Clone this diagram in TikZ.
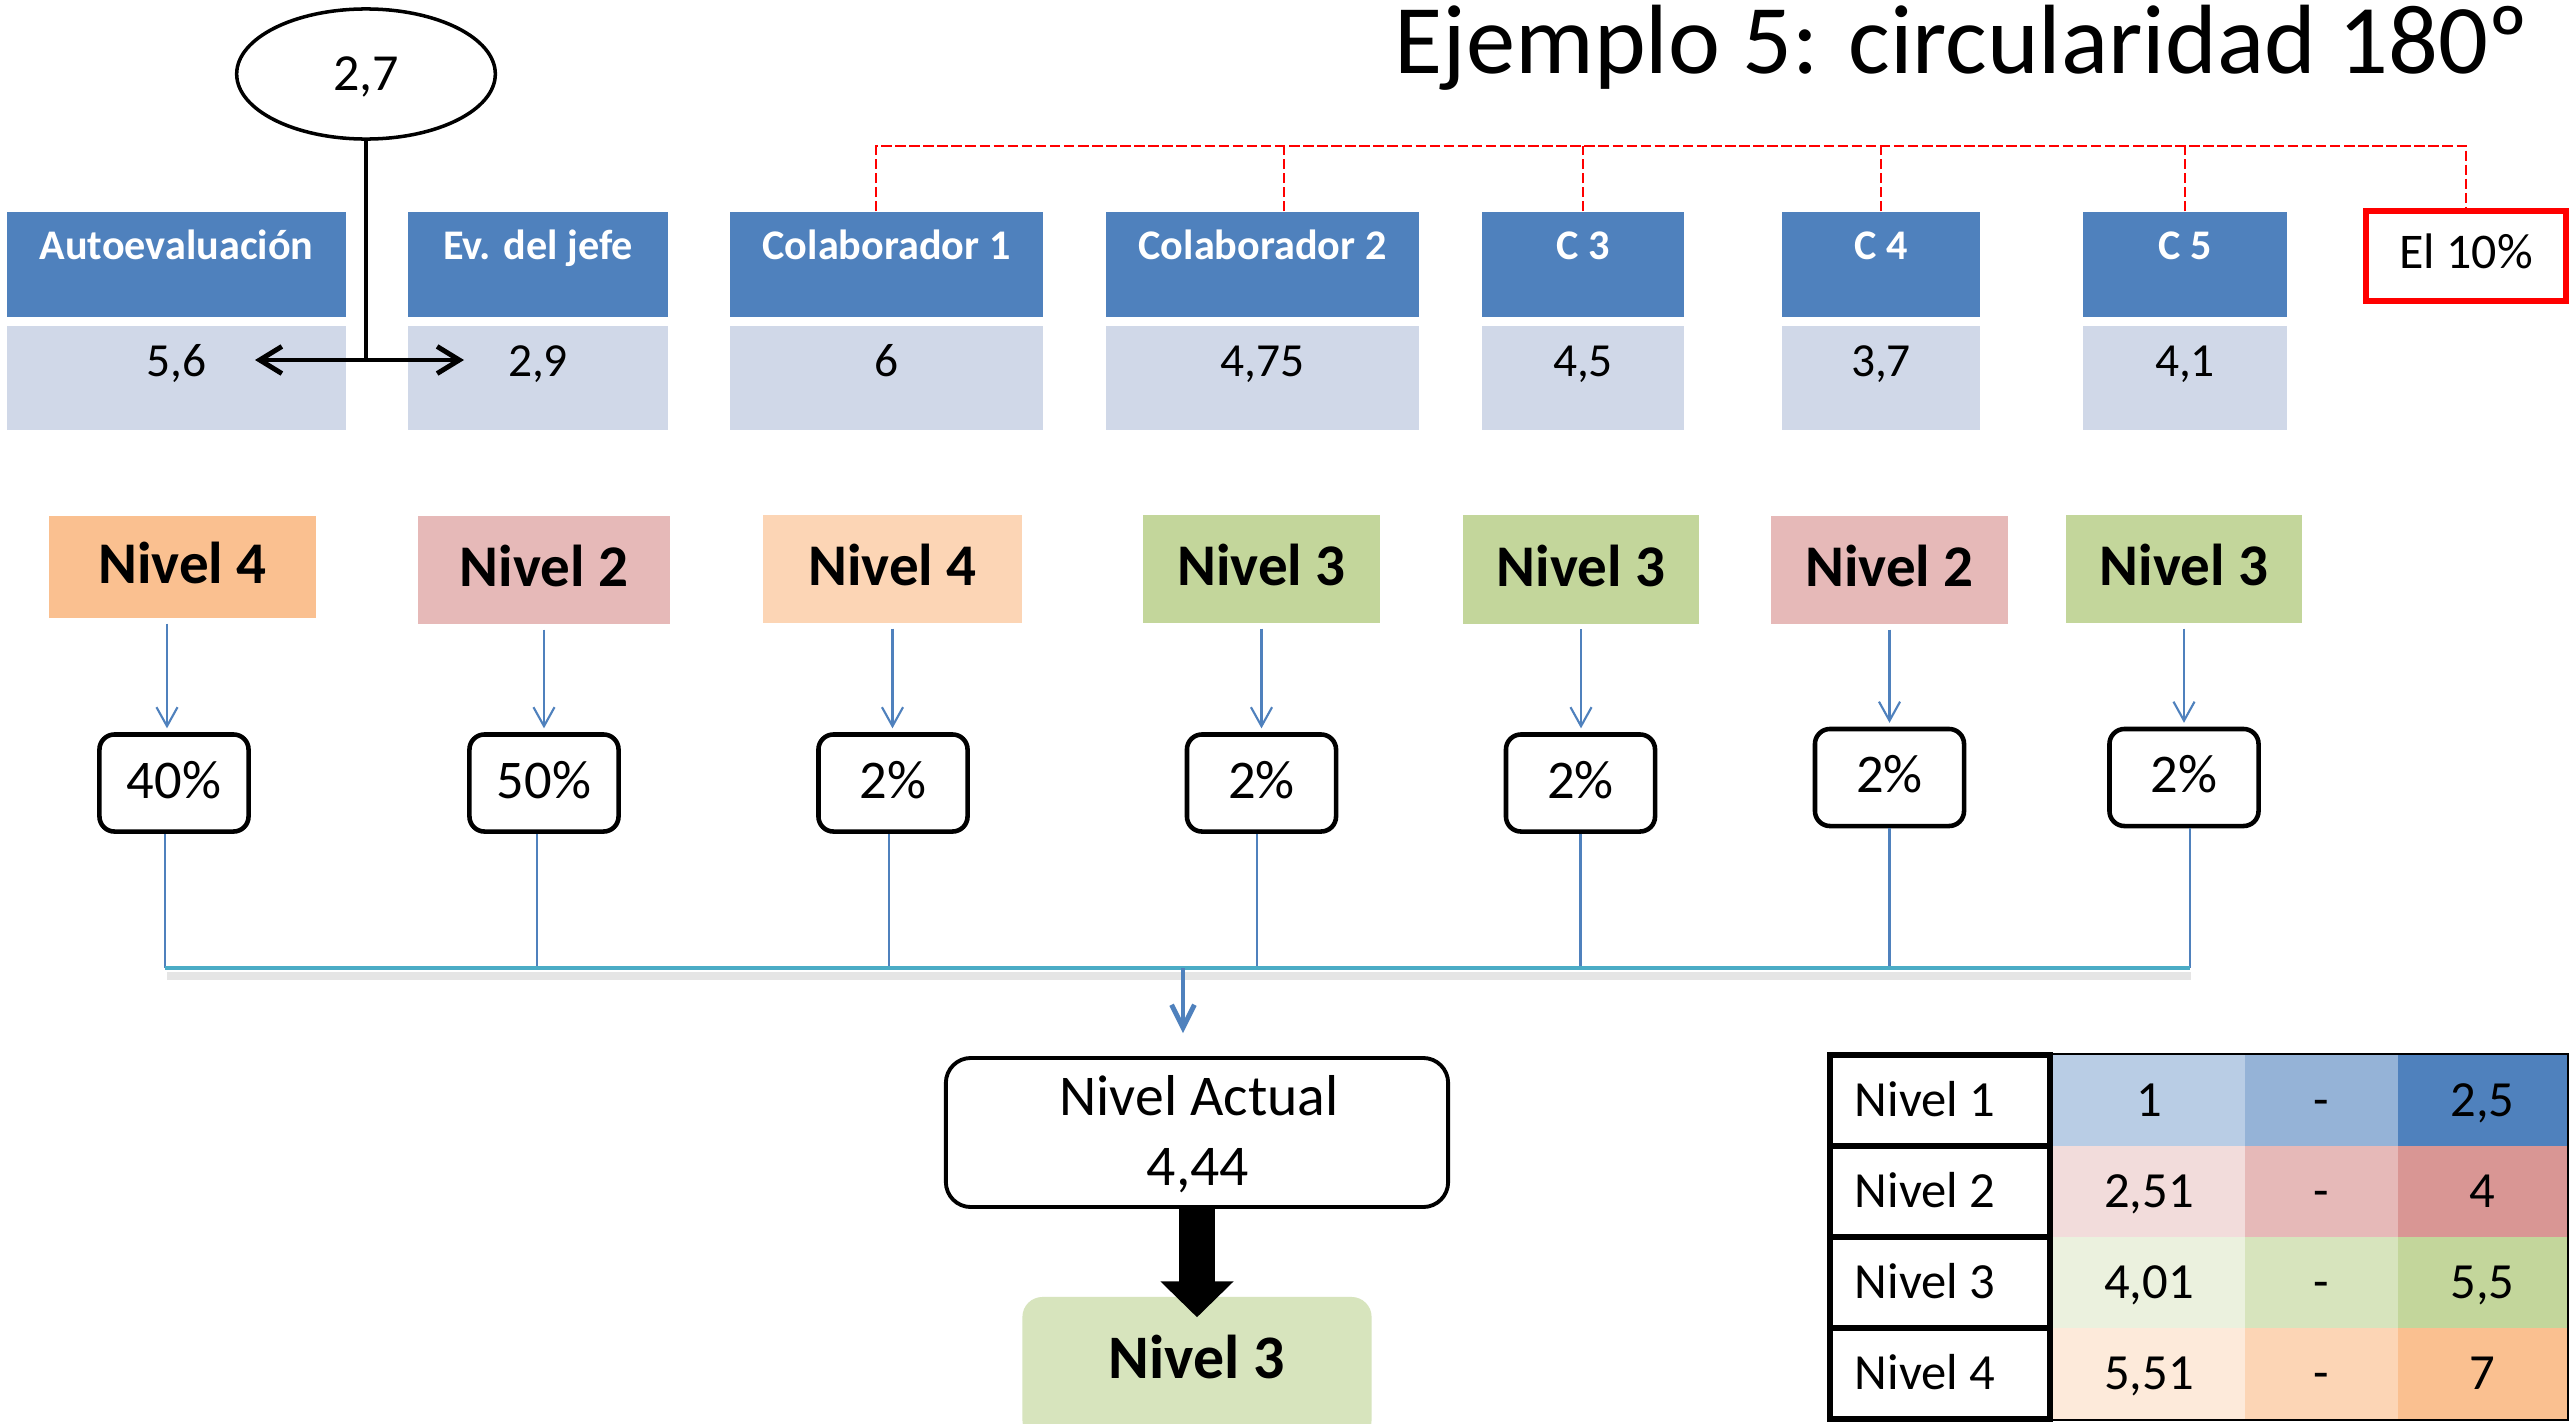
\documentclass[tikz,border=0pt]{standalone}
\usepackage{fontspec}
\setmainfont{Carlito}
\usetikzlibrary{arrows.meta,shapes.geometric}
\definecolor{hblue}{HTML}{4F81BD}
\definecolor{vfill}{HTML}{D0D8E8}
\definecolor{lorange}{HTML}{FAC090}
\definecolor{lpeach}{HTML}{FCD5B5}
\definecolor{lpink}{HTML}{E6B9B8}
\definecolor{lgreen}{HTML}{C3D69B}
\definecolor{resgreen}{HTML}{D7E4BD}
\definecolor{busc}{HTML}{4BACC6}
\definecolor{ta}{HTML}{B9CDE5}\definecolor{tb}{HTML}{95B3D7}\definecolor{tc}{HTML}{4F81BD}
\definecolor{pa}{HTML}{F2DCDB}\definecolor{pb}{HTML}{E6B9B8}\definecolor{pc}{HTML}{D99694}
\definecolor{ga}{HTML}{EBF1DE}\definecolor{gb}{HTML}{D7E4BD}\definecolor{gc}{HTML}{C3D69B}
\definecolor{oa}{HTML}{FDEADA}\definecolor{ob}{HTML}{FCD5B5}\definecolor{oc}{HTML}{FAC090}
\begin{document}
\begin{tikzpicture}[x=0.01cm, y=-0.01cm,
 hdr/.style={fill=hblue, inner sep=0pt, minimum height=1.05cm, text=white, font=\fontsize{12pt}{14pt}\selectfont\bfseries, text height=0.267cm, text depth=0.357cm},
 val/.style={fill=vfill, inner sep=0pt, minimum height=1.04cm, font=\fontsize{13.5pt}{16pt}\selectfont, text height=0.30cm, text depth=0.34cm},
 lev/.style={inner sep=0pt, minimum height=1.08cm, font=\fontsize{16.8pt}{20pt}\selectfont\bfseries, text height=0.373cm, text depth=0.04cm},
 pct/.style={draw=black, line width=1.3pt, rounded corners=0.15cm, fill=white, inner sep=0pt, minimum width=1.49cm, minimum height=0.97cm, font=\fontsize{15.5pt}{18pt}\selectfont, text height=0.344cm, text depth=0.044cm},
 thinarr/.style={draw=hblue, line width=0.6pt, -{Straight Barb[length=5.4pt,width=6pt]}, shorten <=1.4pt, shorten >=1.1pt},
 thinln/.style={draw=hblue, line width=0.6pt},
 rdash/.style={draw=red, line width=0.6pt, dash pattern=on 3pt off 1pt},
 tcell/.style={draw=black, line width=1.7pt, fill=white, inner sep=0pt, minimum width=2.2cm, minimum height=0.91cm, font=\fontsize{14.4pt}{17pt}\selectfont, text height=0.32cm, text depth=0cm},
 ccell/.style={inner sep=0pt, minimum height=0.91cm, font=\fontsize{14.4pt}{17pt}\selectfont, text height=0.32cm, text depth=0cm},
]
\clip (0,0) rectangle (2569,1424);
\fill[white] (0,0) rectangle (2569,1424);

% title
\node[anchor=base west, inner sep=0pt, font=\fontsize{28pt}{33pt}\selectfont] (title) at (1394,73) {Ejemplo 5: circularidad 180º};

% header boxes
\node[hdr, minimum width=3.39cm] (H1) at (176.5,264.5) {Autoevaluación};
\node[hdr, minimum width=2.60cm] (H2) at (538,264.5) {Ev. del jefe};
\node[hdr, minimum width=3.13cm] (H3) at (886.5,264.5) {Colaborador 1};
\node[hdr, minimum width=3.13cm] (H4) at (1262.5,264.5) {Colaborador 2};
\node[hdr, minimum width=2.02cm] (H5) at (1583,264.5) {C 3};
\node[hdr, minimum width=1.98cm] (H6) at (1881,264.5) {C 4};
\node[hdr, minimum width=2.04cm] (H7) at (2185,264.5) {C 5};

% value boxes
\node[val, minimum width=3.39cm] (V1) at (176.5,378) {5,6};
\node[val, minimum width=2.60cm] (V2) at (538,378) {2,9};
\node[val, minimum width=3.13cm] (V3) at (886.5,378) {6};
\node[val, minimum width=3.13cm] (V4) at (1262.5,378) {4,75};
\node[val, minimum width=2.02cm] (V5) at (1583,378) {4,5};
\node[val, minimum width=1.98cm] (V6) at (1881,378) {3,7};
\node[val, minimum width=2.04cm] (V7) at (2185,378) {4,1};

% El 10%
\node[draw=red, line width=1.7pt, fill=white, inner sep=0pt, minimum width=2.0cm, minimum height=0.90cm, font=\fontsize{14.2pt}{17pt}\selectfont, text height=0.315cm, text depth=0.075cm] (El) at (2466,256) {El 10\%};

% red dashed bracket
\coordinate (rt) at (0,146);
\draw[rdash] ([xshift=-0.105cm]H3.north) -- ([xshift=-0.105cm]H3.north |- rt) -- (El.north |- rt) -- (El.north);
\draw[rdash] ([xshift=0.215cm]H4.north) -- ([xshift=0.215cm]H4.north |- rt);
\foreach \n in {H5,H6,H7} \draw[rdash] (\n.north) -- (\n.north |- rt);

% ellipse and double arrow
\node[ellipse, draw=black, line width=1pt, fill=white, inner sep=0pt, minimum width=2.585cm, minimum height=1.30cm, font=\fontsize{14.8pt}{17pt}\selectfont, text height=0.33cm, text depth=0.01cm] (ell) at (366,74) {2,7};
\coordinate (fork) at (366,360);
\coordinate (aL) at (255,360);
\coordinate (aR) at (464,360);
\draw[line width=1.1pt] (ell.south) -- (fork);
\draw[line width=1.4pt, {Straight Barb[length=6.3pt,width=7.7pt]}-{Straight Barb[length=6.3pt,width=7.7pt]}] (aL) -- (aR);

% level boxes
\node[lev, fill=lorange, minimum width=2.67cm, minimum height=1.02cm] (L1) at (182.5,567) {Nivel 4};
\node[lev, fill=lpink, minimum width=2.52cm] (L2) at (544,570) {Nivel 2};
\node[lev, fill=lpeach, minimum width=2.59cm] (L3) at (892.5,569) {Nivel 4};
\node[lev, fill=lgreen, minimum width=2.37cm] (L4) at (1261.5,569) {Nivel 3};
\node[lev, fill=lgreen, minimum width=2.36cm] (L5) at (1581,569.5) {Nivel 3};
\node[lev, fill=lpink, minimum width=2.37cm] (L6) at (1889.5,570) {Nivel 2};
\node[lev, fill=lgreen, minimum width=2.36cm] (L7) at (2184,569) {Nivel 3};

% percentage boxes
\node[pct] (P1) at (174,783) {40\%};
\node[pct] (P2) at (544,783) {50\%};
\node[pct] (P3) at (893,783) {2\%};
\node[pct] (P4) at (1261.5,783) {2\%};
\node[pct] (P5) at (1580.5,783) {2\%};
\node[pct] (P6) at (1889.5,777.5) {2\%};
\node[pct] (P7) at (2184,777.5) {2\%};

% arrows level -> pct
\draw[thinarr] ([xshift=-0.155cm]L1.south) -- ([xshift=-0.155cm]L1.south |- P1.north);
\foreach \a/\b in {L2/P2,L3/P3,L4/P4,L5/P5,L6/P6,L7/P7}
  \draw[thinarr] (\a.south) -- (\a.south |- \b.north);

% bus
\coordinate (bus) at (0,968);
\draw[line width=2.4pt, black!10] (167,976) -- (2191,976);
\draw[thinln] ([xshift=-0.09cm]P1.south) -- ([xshift=-0.09cm]P1.south |- bus);
\draw[thinln] ([xshift=-0.07cm]P2.south) -- ([xshift=-0.07cm]P2.south |- bus);
\draw[thinln] ([xshift=-0.04cm]P3.south) -- ([xshift=-0.04cm]P3.south |- bus);
\draw[thinln] ([xshift=-0.045cm]P4.south) -- ([xshift=-0.045cm]P4.south |- bus);
\draw[thinln] (P5.south) -- (P5.south |- bus);
\draw[thinln] (P6.south) -- (P6.south |- bus);
\draw[thinln] ([xshift=0.06cm]P7.south) -- ([xshift=0.06cm]P7.south |- bus);
\draw[draw=busc, line width=0.9pt] ([xshift=-0.09cm]P1.south |- bus) -- ([xshift=0.06cm]P7.south |- bus);

% Nivel actual
\node[draw=black, line width=1.1pt, rounded corners=0.25cm, fill=white, inner sep=0pt, minimum width=5.02cm, minimum height=1.49cm] (NA) at (1197,1132.5) {};
\node[anchor=base, inner sep=0pt, font=\fontsize{16.4pt}{20pt}\selectfont] (NAa) at (1199,1115) {Nivel Actual};
\node[anchor=base, inner sep=0pt, font=\fontsize{16.4pt}{20pt}\selectfont] (NAb) at (1198,1185) {4,44};
\coordinate (busmid) at (1183,968);
\draw[hblue, line width=1.4pt, -{Straight Barb[length=6.5pt,width=6.5pt]}, shorten >=6.5pt] (busmid) -- (busmid |- NA.north);

% result
\node[fill=resgreen, rounded corners=0.2cm, inner sep=0pt, minimum width=3.49cm, minimum height=1.43cm, font=\fontsize{17.6pt}{21pt}\selectfont\bfseries, text height=0.39cm, text depth=0.20cm] (R) at (1197,1368.5) {Nivel 3};
\draw[line width=10.5pt, -{Triangle[length=10.2pt,width=20.2pt]}] (NA.south) -- ([yshift=-0.21cm]R.north);

% table
\node[ccell, fill=ta, minimum width=1.92cm] (C1a) at (2149,1100.5) {1};
\node[ccell, fill=tb, minimum width=1.53cm] (C1b) at (2321.5,1100.5) {-};
\node[ccell, fill=tc, minimum width=1.69cm] (C1c) at (2482.5,1100.5) {2,5};
\node[ccell, fill=pa, minimum width=1.92cm] (C2a) at (2149,1191.5) {2,51};
\node[ccell, fill=pb, minimum width=1.53cm] (C2b) at (2321.5,1191.5) {-};
\node[ccell, fill=pc, minimum width=1.69cm] (C2c) at (2482.5,1191.5) {4};
\node[ccell, fill=ga, minimum width=1.92cm] (C3a) at (2149,1282.5) {4,01};
\node[ccell, fill=gb, minimum width=1.53cm] (C3b) at (2321.5,1282.5) {-};
\node[ccell, fill=gc, minimum width=1.69cm] (C3c) at (2482.5,1282.5) {5,5};
\node[ccell, fill=oa, minimum width=1.92cm] (C4a) at (2149,1373.5) {5,51};
\node[ccell, fill=ob, minimum width=1.53cm] (C4b) at (2321.5,1373.5) {-};
\node[ccell, fill=oc, minimum width=1.69cm] (C4c) at (2482.5,1373.5) {7};
\draw[line width=0.6pt] (C1a.north west) -- (C1c.north east) -- (C4c.south east) -- (C4a.south west);
\node[tcell] (T1) at (1940,1100.5) {\makebox[1.7cm][l]{Nivel 1}};
\node[tcell] (T2) at (1940,1191.5) {\makebox[1.7cm][l]{Nivel 2}};
\node[tcell] (T3) at (1940,1282.5) {\makebox[1.7cm][l]{Nivel 3}};
\node[tcell] (T4) at (1940,1373.5) {\makebox[1.7cm][l]{Nivel 4}};
\end{tikzpicture}
\end{document}
